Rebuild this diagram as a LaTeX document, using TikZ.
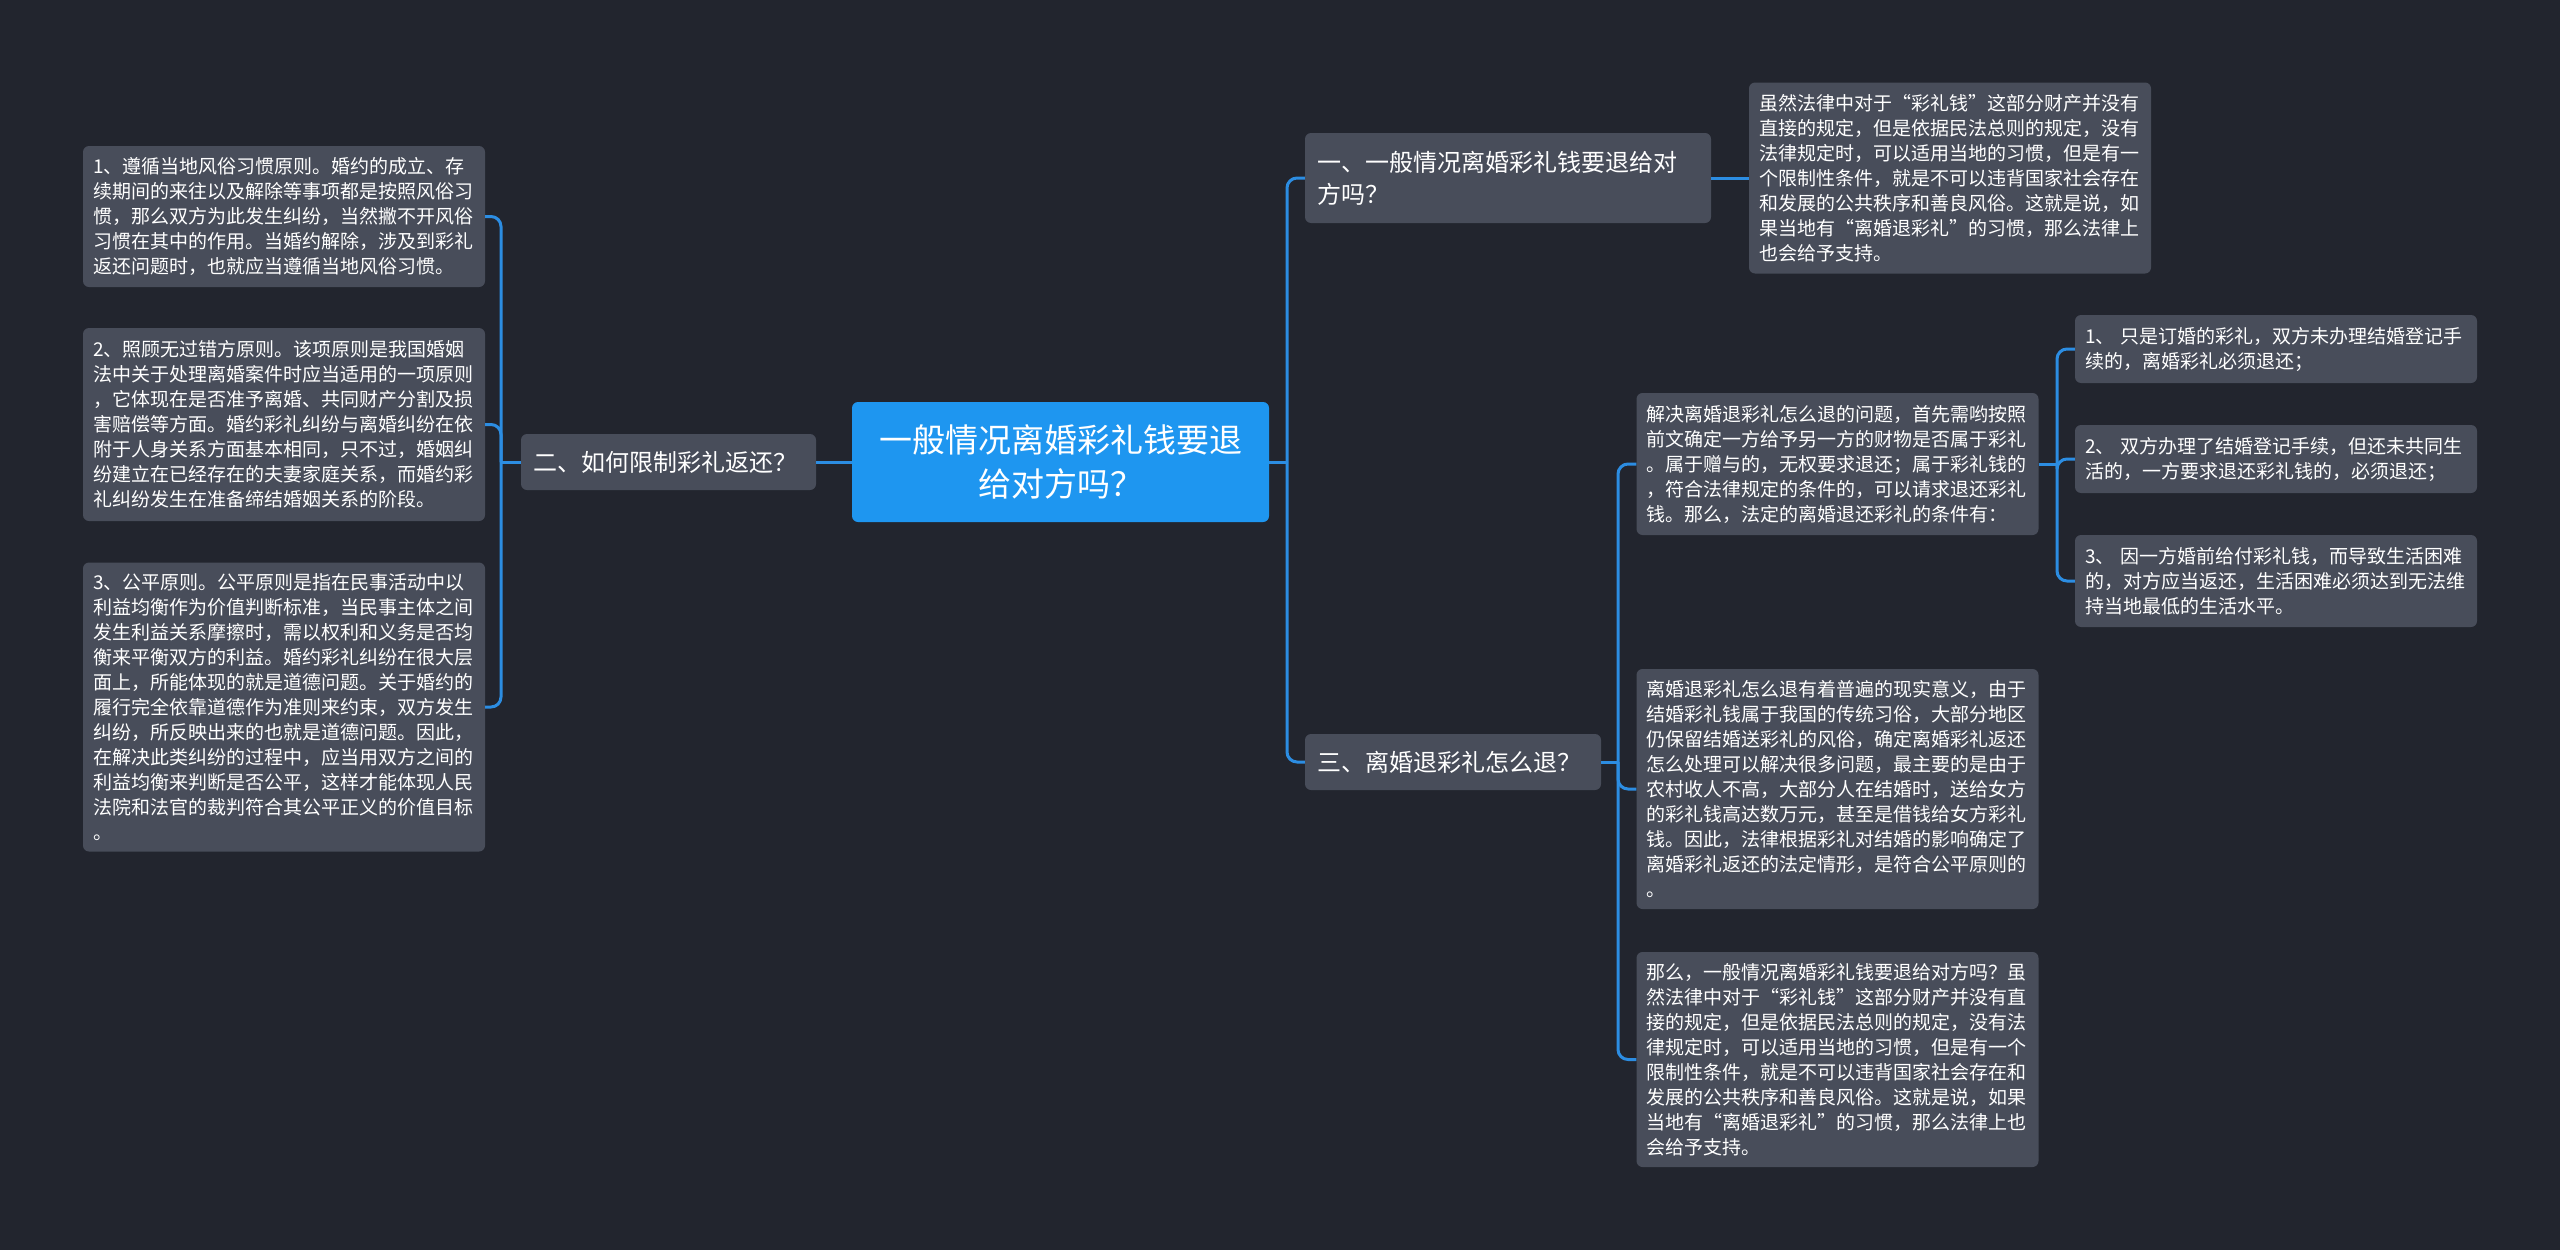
\documentclass[tikz,border=0pt]{standalone}
\usepackage{fontspec}
\setmainfont{Noto Sans CJK SC}
\definecolor{bgc}{HTML}{22252E}
\definecolor{boxc}{HTML}{484D5A}
\definecolor{rootc}{HTML}{1E96F0}
\definecolor{linec}{HTML}{2C8DE2}
\tikzset{
  leafbox/.style={fill=boxc, rounded corners=6pt, text=white, align=left,
    inner xsep=10pt, inner ysep=0pt, font=\fontsize{19}{25}\selectfont},
  midbox/.style={fill=boxc, rounded corners=6pt, text=white, align=left,
    inner xsep=12pt, inner ysep=0pt, font=\fontsize{24}{32}\selectfont},
  rootbox/.style={fill=rootc, rounded corners=6pt, text=white, align=center,
    inner xsep=10pt, inner ysep=0pt, font=\fontsize{33}{44}\selectfont},
  conn/.style={draw=linec, line width=3pt},
  rconn/.style={draw=linec, line width=3pt, rounded corners=10pt}
}
\begin{document}
\begin{tikzpicture}[x=1pt,y=-1pt]
\fill[bgc] (0,0) rectangle (2560,1250);
\useasboundingbox (0,0) rectangle (2560,1250);

% root
\node[rootbox, text width=397pt, minimum height=120pt] (root) at (1060.5,462)
  {一般情况离婚彩礼钱要退\\给对方吗？};

% left branch
\node[midbox, text width=271pt, minimum height=56pt] (er) at (668.5,462)
  {二、如何限制彩礼返还？};

\node[leafbox, text width=382pt, minimum height=141pt] (b1) at (284,216.5)
  {1、遵循当地风俗习惯原则。婚约的成立、存\\
   续期间的来往以及解除等事项都是按照风俗习\\
   惯，那么双方为此发生纠纷，当然撇不开风俗\\
   习惯在其中的作用。当婚约解除，涉及到彩礼\\
   返还问题时，也就应当遵循当地风俗习惯。};

\node[leafbox, text width=382pt, minimum height=193pt] (b2) at (284,424.5)
  {2、照顾无过错方原则。该项原则是我国婚姻\\
   法中关于处理离婚案件时应当适用的一项原则\\
   ，它体现在是否准予离婚、共同财产分割及损\\
   害赔偿等方面。婚约彩礼纠纷与离婚纠纷在依\\
   附于人身关系方面基本相同，只不过，婚姻纠\\
   纷建立在已经存在的夫妻家庭关系，而婚约彩\\
   礼纠纷发生在准备缔结婚姻关系的阶段。};

\node[leafbox, text width=382pt, minimum height=289pt] (b3) at (284,707)
  {3、公平原则。公平原则是指在民事活动中以\\
   利益均衡作为价值判断标准，当民事主体之间\\
   发生利益关系摩擦时，需以权利和义务是否均\\
   衡来平衡双方的利益。婚约彩礼纠纷在很大层\\
   面上，所能体现的就是道德问题。关于婚约的\\
   履行完全依靠道德作为准则来约束，双方发生\\
   纠纷，所反映出来的也就是道德问题。因此，\\
   在解决此类纠纷的过程中，应当用双方之间的\\
   利益均衡来判断是否公平，这样才能体现人民\\
   法院和法官的裁判符合其公平正义的价值目标\\
   。};

% right branch
\node[midbox, text width=382pt, minimum height=90pt] (n1) at (1508,178)
  {一、一般情况离婚彩礼钱要退给对\\方吗？};

\node[leafbox, text width=382pt, minimum height=191pt] (l1) at (1950,178)
  {虽然法律中对于“彩礼钱”这部分财产并没有\\
   直接的规定，但是依据民法总则的规定，没有\\
   法律规定时，可以适用当地的习惯，但是有一\\
   个限制性条件，就是不可以违背国家社会存在\\
   和发展的公共秩序和善良风俗。这就是说，如\\
   果当地有“离婚退彩礼”的习惯，那么法律上\\
   也会给予支持。};

\node[midbox, text width=272pt, minimum height=56pt] (n3) at (1453,762)
  {三、离婚退彩礼怎么退？};

\node[leafbox, text width=382pt, minimum height=142pt] (la) at (1837.5,464)
  {解决离婚退彩礼怎么退的问题，首先需哟按照\\
   前文确定一方给予另一方的财物是否属于彩礼\\
   。属于赠与的，无权要求退还；属于彩礼钱的\\
   ，符合法律规定的条件的，可以请求退还彩礼\\
   钱。那么，法定的离婚退还彩礼的条件有：};

\node[leafbox, text width=382pt, minimum height=240pt] (lb) at (1837.5,789)
  {离婚退彩礼怎么退有着普遍的现实意义，由于\\
   结婚彩礼钱属于我国的传统习俗，大部分地区\\
   仍保留结婚送彩礼的风俗，确定离婚彩礼返还\\
   怎么处理可以解决很多问题，最主要的是由于\\
   农村收人不高，大部分人在结婚时，送给女方\\
   的彩礼钱高达数万元，甚至是借钱给女方彩礼\\
   钱。因此，法律根据彩礼对结婚的影响确定了\\
   离婚彩礼返还的法定情形，是符合公平原则的\\
   。};

\node[leafbox, text width=382pt, minimum height=215pt] (lc) at (1837.5,1059.5)
  {那么，一般情况离婚彩礼钱要退给对方吗？虽\\
   然法律中对于“彩礼钱”这部分财产并没有直\\
   接的规定，但是依据民法总则的规定，没有法\\
   律规定时，可以适用当地的习惯，但是有一个\\
   限制性条件，就是不可以违背国家社会存在和\\
   发展的公共秩序和善良风俗。这就是说，如果\\
   当地有“离婚退彩礼”的习惯，那么法律上也\\
   会给予支持。};

\node[leafbox, text width=382pt, minimum height=68pt] (s1) at (2276,349)
  {1、 只是订婚的彩礼，双方未办理结婚登记手\\
   续的，离婚彩礼必须退还；};

\node[leafbox, text width=382pt, minimum height=68pt] (s2) at (2276,459)
  {2、 双方办理了结婚登记手续，但还未共同生\\
   活的，一方要求退还彩礼钱的，必须退还；};

\node[leafbox, text width=382pt, minimum height=92pt] (s3) at (2276,581)
  {3、 因一方婚前给付彩礼钱，而导致生活困难\\
   的，对方应当返还，生活困难必须达到无法维\\
   持当地最低的生活水平。};

% junction coordinates
\coordinate (tL) at (501,462);
\coordinate (tR) at (1287,462);
\coordinate (t3) at (1618,762);
\coordinate (tA) at (2057,464);

% connectors
\draw[conn] (root.west) -- (er.east);
\draw[conn] (er.west) -- (tL);
\draw[rconn] (tL) |- (b1.east);
\draw[rconn] (tL) |- (b2.east);
\draw[rconn] (tL) |- (b3.east);

\draw[conn] (root.east) -- (tR);
\draw[rconn] (tR) |- (n1.west);
\draw[rconn] (tR) |- (n3.west);
\draw[conn] (n1.east) -- (l1.west);

\draw[conn] (n3.east) -- (t3);
\draw[rconn] (t3) |- (la.west);
\draw[rconn] (t3) |- (lb.west);
\draw[rconn] (t3) |- (lc.west);

\draw[conn] (la.east) -- (tA);
\draw[rconn] (tA) |- (s1.west);
\draw[rconn] (tA) |- (s2.west);
\draw[rconn] (tA) |- (s3.west);
\end{tikzpicture}
\end{document}
